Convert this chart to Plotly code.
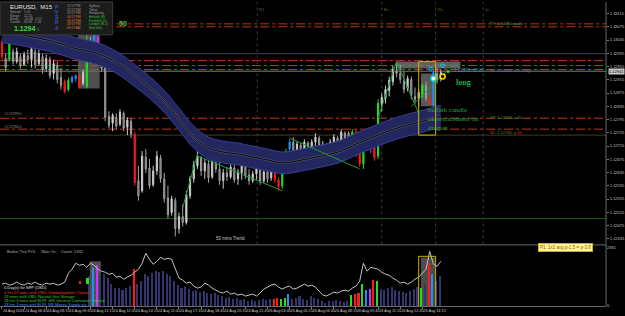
import plotly.graph_objects as go

# ---------------- DATA (EURUSD M15) ----------------
opens = [1.13030, 1.12979, 1.12976, 1.13000, 1.12970, 1.12985, 1.12961, 1.12988, 1.12976, 1.13000,
         1.12964, 1.12985, 1.12949, 1.12976, 1.12934, 1.12958, 1.12922, 1.12910, 1.12886, 1.12910,
         1.12919, 1.12928, 1.12904, 1.12895, 1.13030, 1.12985, 1.13045, 1.12982, 1.12952, 1.12805,
         1.12784, 1.12802, 1.12781, 1.12814, 1.12772, 1.12790, 1.12751, 1.12610, 1.12580, 1.12682,
         1.12649, 1.12598, 1.12640, 1.12679, 1.12616, 1.12559, 1.12514, 1.12550, 1.12466, 1.12502,
         1.12484, 1.12565, 1.12616, 1.12655, 1.12679, 1.12640, 1.12661, 1.12622, 1.12664, 1.12646,
         1.12610, 1.12634, 1.12622, 1.12649, 1.12616, 1.12634, 1.12652, 1.12628, 1.12610, 1.12631,
         1.12643, 1.12610, 1.12637, 1.12619, 1.12646, 1.12613, 1.12595, 1.12640, 1.12706, 1.12727,
         1.12700, 1.12718, 1.12676, 1.12724, 1.12670, 1.12727, 1.12739, 1.12682, 1.12718, 1.12691,
         1.12727, 1.12739, 1.12706, 1.12754, 1.12754, 1.12715, 1.12757, 1.12694, 1.12661, 1.12712,
         1.12721, 1.12709, 1.12685, 1.12841, 1.12859, 1.12883, 1.12910, 1.12943, 1.12934, 1.12913,
         1.12889, 1.12916, 1.12865, 1.12859, 1.12865, 1.12898, 1.12859, 1.12838, 1.12934, 1.12919]
highs = [1.13039, 1.12994, 1.13060, 1.13009, 1.13012, 1.12994, 1.13000, 1.13006, 1.13018, 1.13009,
         1.13006, 1.12994, 1.12991, 1.12985, 1.12976, 1.12970, 1.12952, 1.12916, 1.12922, 1.12928,
         1.12931, 1.12934, 1.12946, 1.13051, 1.13045, 1.13060, 1.13060, 1.12994, 1.12964, 1.12820,
         1.12814, 1.12814, 1.12826, 1.12820, 1.12802, 1.12799, 1.12757, 1.12655, 1.12700, 1.12706,
         1.12676, 1.12655, 1.12700, 1.12688, 1.12634, 1.12595, 1.12565, 1.12559, 1.12514, 1.12538,
         1.12580, 1.12625, 1.12670, 1.12700, 1.12685, 1.12676, 1.12670, 1.12676, 1.12682, 1.12670,
         1.12646, 1.12652, 1.12661, 1.12658, 1.12646, 1.12664, 1.12661, 1.12646, 1.12640, 1.12655,
         1.12652, 1.12646, 1.12643, 1.12652, 1.12655, 1.12622, 1.12661, 1.12706, 1.12736, 1.12742,
         1.12730, 1.12724, 1.12736, 1.12730, 1.12736, 1.12754, 1.12745, 1.12730, 1.12724, 1.12736,
         1.12751, 1.12745, 1.12766, 1.12760, 1.12760, 1.12766, 1.12766, 1.12700, 1.12721, 1.12730,
         1.12736, 1.12715, 1.12856, 1.12874, 1.12898, 1.12925, 1.12958, 1.12970, 1.12961, 1.12940,
         1.12928, 1.12925, 1.12892, 1.12886, 1.12904, 1.12910, 1.12865, 1.12946, 1.12952, 1.12946]
lows = [1.12976, 1.12940, 1.12970, 1.12961, 1.12964, 1.12949, 1.12958, 1.12964, 1.12952, 1.12949,
        1.12958, 1.12934, 1.12940, 1.12919, 1.12916, 1.12904, 1.12886, 1.12874, 1.12880, 1.12904,
        1.12910, 1.12889, 1.12898, 1.12889, 1.12964, 1.12979, 1.12976, 1.12940, 1.12790, 1.12769,
        1.12760, 1.12766, 1.12775, 1.12760, 1.12748, 1.12739, 1.12595, 1.12550, 1.12574, 1.12634,
        1.12586, 1.12592, 1.12628, 1.12604, 1.12544, 1.12496, 1.12505, 1.12442, 1.12451, 1.12472,
        1.12478, 1.12556, 1.12604, 1.12646, 1.12625, 1.12616, 1.12604, 1.12616, 1.12634, 1.12598,
        1.12586, 1.12610, 1.12616, 1.12604, 1.12598, 1.12613, 1.12616, 1.12598, 1.12604, 1.12613,
        1.12598, 1.12604, 1.12604, 1.12610, 1.12604, 1.12580, 1.12586, 1.12631, 1.12700, 1.12688,
        1.12679, 1.12664, 1.12670, 1.12658, 1.12664, 1.12694, 1.12670, 1.12676, 1.12679, 1.12685,
        1.12700, 1.12694, 1.12700, 1.12700, 1.12709, 1.12706, 1.12682, 1.12652, 1.12646, 1.12700,
        1.12694, 1.12670, 1.12676, 1.12820, 1.12844, 1.12865, 1.12898, 1.12922, 1.12904, 1.12874,
        1.12880, 1.12856, 1.12844, 1.12832, 1.12859, 1.12850, 1.12838, 1.12832, 1.12904, 1.12910]
closes = [1.12985, 1.12952, 1.13051, 1.12970, 1.13000, 1.12958, 1.12991, 1.12976, 1.13009, 1.12961,
          1.12994, 1.12946, 1.12979, 1.12928, 1.12964, 1.12916, 1.12898, 1.12880, 1.12913, 1.12922,
          1.12928, 1.12895, 1.12937, 1.13036, 1.12976, 1.13051, 1.12985, 1.12949, 1.12802, 1.12778,
          1.12808, 1.12775, 1.12817, 1.12769, 1.12793, 1.12751, 1.12604, 1.12565, 1.12685, 1.12646,
          1.12595, 1.12640, 1.12685, 1.12616, 1.12556, 1.12508, 1.12556, 1.12466, 1.12502, 1.12484,
          1.12568, 1.12616, 1.12658, 1.12682, 1.12640, 1.12664, 1.12619, 1.12667, 1.12646, 1.12610,
          1.12634, 1.12622, 1.12652, 1.12613, 1.12637, 1.12655, 1.12625, 1.12610, 1.12631, 1.12646,
          1.12607, 1.12637, 1.12616, 1.12643, 1.12613, 1.12592, 1.12652, 1.12697, 1.12727, 1.12697,
          1.12721, 1.12673, 1.12727, 1.12667, 1.12727, 1.12742, 1.12679, 1.12721, 1.12688, 1.12727,
          1.12742, 1.12703, 1.12757, 1.12712, 1.12718, 1.12757, 1.12691, 1.12661, 1.12712, 1.12721,
          1.12706, 1.12679, 1.12844, 1.12862, 1.12886, 1.12913, 1.12946, 1.12934, 1.12916, 1.12886,
          1.12919, 1.12868, 1.12856, 1.12877, 1.12898, 1.12859, 1.12844, 1.12937, 1.12916, 1.12937]
# PVSRA candle class: w normal, r/g climax, b/m rising volume
pvsra = ("rwg" + "w" * 14 + "rgbbrwgwbm" + "w" * 9 + "r" + "w" * 37 + "rrggb"
         + "w" * 16 + "grrgbmrg" + "w" * 11 + "gwrbww")

volumes = [0, 0, 0, 0, 0, 0, 0, 0, 0, 0,
           0, 0, 0, 0, 0, 0, 0, 0, 0, 0,
           0, 0, 0, 0, 1200, 1520, 1640, 1200, 1280, 1120,
           880, 720, 720, 640, 720, 800, 1480, 880, 1000, 1280,
           1200, 1320, 1400, 1360, 1400, 1280, 1200, 1000, 840, 720,
           760, 680, 600, 640, 560, 600, 520, 480, 520, 440,
           400, 320, 360, 280, 320, 240, 280, 200, 240, 200,
           240, 280, 240, 280, 280, 320, 280, 320, 480, 280,
           320, 400, 280, 240, 400, 320, 280, 200, 120, 200,
           200, 240, 200, 160, 200, 440, 480, 520, 880, 640,
           680, 1040, 1000, 680, 640, 720, 760, 640, 600, 560,
           520, 600, 680, 760, 720, 880, 1720, 1280, 1000, 1200]
vol_float_idx = [21, 23]
vol_float_len = [120, 240]
vol_float_base = [880, 880]
vol_line = [880, 920, 840, 880, 960, 880, 840, 920, 880, 960,
            880, 840, 920, 880, 920, 840, 880, 960, 1320, 1480,
            1720, 1640, 1680, 1560, 1720, 1640, 1480, 1400, 1360, 1280,
            1320, 1160, 1200, 1080, 1160, 1240, 1360, 1480, 1720, 2120,
            1880, 1680, 1800, 1960, 1880, 1920, 1880, 1480, 1120, 1040,
            920, 960, 800, 720, 760, 920, 840, 720, 640, 560,
            520, 600, 480, 520, 440, 480, 400, 440, 480, 400,
            520, 680, 760, 840, 880, 760, 680, 760, 800, 680,
            720, 800, 880, 800, 840, 760, 600, 440, 400, 480,
            560, 520, 600, 640, 600, 720, 800, 1000, 1720, 1400,
            1560, 1520, 1480, 1360, 1280, 1240, 1120, 1040, 920, 960,
            880, 960, 1080, 1160, 1320, 1480, 2200, 1680, 1600, 1800]

dragon_idx = [0, 4, 8, 12, 16, 20, 24, 28, 32, 36, 40, 44, 48, 52, 56, 60,
              64, 68, 72, 76, 80, 84, 88, 92, 96, 100, 104, 108, 112, 116, 119]
dragon_mid = [1.13060, 1.13054, 1.13045, 1.13036, 1.13024, 1.13009, 1.13000, 1.12985,
              1.12961, 1.12928, 1.12892, 1.12850, 1.12796, 1.12742, 1.12709, 1.12697,
              1.12691, 1.12682, 1.12673, 1.12664, 1.12670, 1.12679, 1.12688, 1.12700,
              1.12721, 1.12739, 1.12757, 1.12772, 1.12784, 1.12796, 1.12805]
dragon_high = [1.13093, 1.13087, 1.13078, 1.13069, 1.13057, 1.13042, 1.13033, 1.13018,
               1.12994, 1.12961, 1.12925, 1.12883, 1.12829, 1.12775, 1.12742, 1.12730,
               1.12724, 1.12715, 1.12706, 1.12697, 1.12703, 1.12712, 1.12721, 1.12733,
               1.12754, 1.12772, 1.12790, 1.12805, 1.12817, 1.12829, 1.12838]
dragon_low = [1.13027, 1.13021, 1.13012, 1.13003, 1.12991, 1.12976, 1.12967, 1.12952,
              1.12928, 1.12895, 1.12859, 1.12817, 1.12763, 1.12709, 1.12676, 1.12664,
              1.12658, 1.12649, 1.12640, 1.12631, 1.12637, 1.12646, 1.12655, 1.12667,
              1.12688, 1.12706, 1.12724, 1.12739, 1.12751, 1.12763, 1.12772]

price_ticks = [1.13115, 1.13075, 1.13035, 1.12995, 1.12955, 1.12915, 1.12875, 1.12835, 1.12795,
               1.12755, 1.12715, 1.12675, 1.12635, 1.12595, 1.12555, 1.12515, 1.12475, 1.12435]
current_price = 1.12941
time_tick_idx = [0, 6, 12, 18, 24, 30, 36, 42, 48, 54, 60, 66, 72, 78, 84, 90, 96, 102, 108, 114]
time_labels = ["24 Aug 2018", "24 Aug 06:45", "24 Aug 08:15", "24 Aug 09:45", "24 Aug 11:15",
               "24 Aug 12:45", "24 Aug 14:15", "24 Aug 15:45", "24 Aug 17:15", "24 Aug 18:45",
               "24 Aug 20:15", "24 Aug 21:45", "26 Aug 03:45", "26 Aug 05:15", "26 Aug 06:45",
               "26 Aug 08:15", "26 Aug 09:45", "26 Aug 11:15", "26 Aug 12:45", "26 Aug 14:15"]

red_levels = [1.12973, 1.12958, 1.12946, 1.12799, 1.12766]
tp_levels = [1.13084, 1.13075]
tp_start_idx = 31
pivot_level = 1.12994
olive_level = 1.12748
green_level = 1.12496
session_idx = [69.2, 103, 117.6, 130.5]
session_names = ["R1", "Ec", "Px", "1c"]
trendlines = [(49, 1.12529, 53, 1.12691), (53, 1.12685, 76, 1.12580), (78, 1.12739, 97, 1.12646),
              (102, 1.12799, 107, 1.12970), (107, 1.12970, 113, 1.12814), (111, 1.12835, 121, 1.12946)]
signal_box = dict(first=113, last=117.6, top=1.12970, bottom=1.12748)
range_bar = dict(first=106.8, last=124.3, top=1.12970, bottom=1.12949)
cyan_ring = ([117], [1.12919])
yellow_ring = ([119.5], [1.12925])
cyan_marks = ([116.2, 119.5], [1.12949, 1.12958])
green_dot = ([121], [1.12940])

# ---------------- FIGURE ----------------
N = len(closes)
bar_idx = list(range(N))
COL = {'r': '#ff1a1a', 'g': '#1fe01f', 'b': '#1e90ff', 'm': '#cc33ff'}
VOL_BASE = '#35356e'
PW, PH = 608.0, 306.0
XR = [-0.54, 163.8]


def px(x):
    return x / PW


def py(y):
    return 1 - y / PH


fig = go.Figure()

# dragon band
fig.add_trace(go.Scatter(x=dragon_idx, y=dragon_low, mode='lines', hoverinfo='skip',
                         line=dict(color='#383f98', width=1, shape='spline')))
fig.add_trace(go.Scatter(x=dragon_idx, y=dragon_high, mode='lines', hoverinfo='skip', fill='tonexty',
                         fillcolor='#23275f', line=dict(color='#383f98', width=1, shape='spline')))
fig.add_trace(go.Scatter(x=dragon_idx, y=dragon_mid, mode='lines', hoverinfo='skip',
                         line=dict(color='#4c4c66', width=2.4, shape='spline')))
fig.add_trace(go.Scatter(x=dragon_idx, y=dragon_mid, mode='lines', hoverinfo='skip',
                         line=dict(color='#08080f', width=1.0, shape='spline')))

# trend lines
for (a, pa, b, pb) in trendlines:
    fig.add_trace(go.Scatter(x=[a, b], y=[pa, pb], mode='lines', hoverinfo='skip',
                             line=dict(color='#1f9a3a', width=1)))

# candles grouped by PVSRA colour
groups = {}
for i, c in enumerate(pvsra):
    groups.setdefault(c, []).append(i)
for c, ids in groups.items():
    if c == 'w':
        inc = dict(line=dict(color='#c8c8c8', width=1), fillcolor='#e4e4e4')
        dec = dict(line=dict(color='#a0a0a0', width=1), fillcolor='#5c5c5c')
    else:
        inc = dict(line=dict(color=COL[c], width=1), fillcolor=COL[c])
        dec = dict(line=dict(color=COL[c], width=1), fillcolor=COL[c])
    fig.add_trace(go.Candlestick(x=ids, open=[opens[i] for i in ids], high=[highs[i] for i in ids],
                                 low=[lows[i] for i in ids], close=[closes[i] for i in ids],
                                 increasing=inc, decreasing=dec, whiskerwidth=0,
                                 hoverinfo='skip', xaxis='x', yaxis='y'))

# markers
fig.add_trace(go.Scatter(x=cyan_ring[0], y=cyan_ring[1], mode='markers',
                         marker=dict(symbol='circle', size=5, color='#ffffff', line=dict(color='#00d8ff', width=1.4))))
fig.add_trace(go.Scatter(x=yellow_ring[0], y=yellow_ring[1], mode='markers',
                         marker=dict(symbol='circle', size=5, color='#111111', line=dict(color='#ffd700', width=1.6))))
fig.add_trace(go.Scatter(x=cyan_marks[0], y=cyan_marks[1], mode='markers',
                         marker=dict(symbol='square-open', size=3, color='#00c8ff', line=dict(width=1))))
fig.add_trace(go.Scatter(x=green_dot[0], y=green_dot[1], mode='markers',
                         marker=dict(symbol='circle', size=3, color='#20e020')))

# volume panel
vol_colors = [VOL_BASE if c == 'w' else COL[c] for c in pvsra]
fig.add_trace(go.Bar(x=bar_idx, y=volumes, marker=dict(color=vol_colors, line=dict(width=0)),
                     width=0.42, xaxis='x', yaxis='y2', hoverinfo='skip'))
fig.add_trace(go.Bar(x=vol_float_idx, y=vol_float_len, base=vol_float_base,
                     marker=dict(color=[COL[pvsra[i]] for i in vol_float_idx], line=dict(width=0)),
                     width=0.42, xaxis='x', yaxis='y2', hoverinfo='skip'))
fig.add_trace(go.Scatter(x=bar_idx, y=vol_line, mode='lines', xaxis='x', yaxis='y2',
                         line=dict(color='#c4c4c4', width=1), hoverinfo='skip'))

shapes = []
# highlight of bars 21-26 (range from candle data)
hb = range(21, 27)
shapes.append(dict(type='rect', xref='x', yref='y', x0=20.6, x1=26.5, layer='below',
                   y0=min(lows[i] for i in hb), y1=max(highs[i] for i in hb),
                   fillcolor='rgba(105,105,105,0.75)', line=dict(width=0)))
shapes.append(dict(type='rect', xref='x', yref='y', x0=range_bar['first'], x1=range_bar['last'],
                   y0=range_bar['bottom'], y1=range_bar['top'], layer='below',
                   fillcolor='rgba(120,120,120,0.8)', line=dict(width=0)))
shapes.append(dict(type='rect', xref='x', yref='y', x0=signal_box['first'] + 0.6, x1=signal_box['last'] - 0.2,
                   y0=1.12835, y1=1.12934, layer='below', fillcolor='rgba(110,110,110,0.8)', line=dict(width=0)))
shapes.append(dict(type='rect', xref='x', yref='y', x0=signal_box['first'], x1=signal_box['last'],
                   y0=signal_box['bottom'], y1=signal_box['top'], line=dict(color='#c8b400', width=1)))
# volume-panel highlights
shapes.append(dict(type='rect', xref='x', yref='y2', x0=23.8, x1=26.8, y0=0, y1=1800, layer='below',
                   fillcolor='rgba(100,100,100,0.8)', line=dict(width=0)))
shapes.append(dict(type='rect', xref='x', yref='y2', x0=signal_box['first'] + 0.6, x1=signal_box['last'] - 0.2,
                   y0=0, y1=1950, layer='below', fillcolor='rgba(95,95,95,0.8)', line=dict(width=0)))
shapes.append(dict(type='rect', xref='x', yref='y2', x0=signal_box['first'], x1=signal_box['last'],
                   y0=-60, y1=2000, line=dict(color='#c8b400', width=1)))
# levels
for lv in red_levels:
    shapes.append(dict(type='line', xref='paper', yref='y', x0=0, x1=1, y0=lv, y1=lv, layer='below',
                       line=dict(color='#c0381a', width=1, dash='dashdot')))
for lv in tp_levels:
    shapes.append(dict(type='line', xref='x', yref='y', x0=tp_start_idx, x1=XR[1], y0=lv, y1=lv, layer='below',
                       line=dict(color='#c0381a', width=1, dash='dashdot')))
shapes.append(dict(type='line', xref='paper', yref='y', x0=0, x1=1, y0=pivot_level, y1=pivot_level,
                   layer='below', line=dict(color='#3a4662', width=1)))
shapes.append(dict(type='line', xref='paper', yref='y', x0=0, x1=1, y0=current_price, y1=current_price,
                   layer='below', line=dict(color='#7c7c7c', width=1)))
shapes.append(dict(type='line', xref='paper', yref='y', x0=0, x1=1, y0=olive_level, y1=olive_level,
                   layer='below', line=dict(color='#4a3a1c', width=1)))
shapes.append(dict(type='line', xref='paper', yref='y', x0=0, x1=1, y0=green_level, y1=green_level,
                   layer='below', line=dict(color='#1b5a1b', width=1)))
for sx in session_idx:
    shapes.append(dict(type='line', xref='x', yref='paper', x0=sx, x1=sx, y0=py(244), y1=1, layer='below',
                       line=dict(color='#3a3a3a', width=1, dash='dot')))
# panel frames
shapes.append(dict(type='line', xref='paper', yref='paper', x0=0, x1=1, y0=py(244.5), y1=py(244.5),
                   line=dict(color='#6a6a6a', width=1)))
shapes.append(dict(type='line', xref='paper', yref='paper', x0=1, x1=1, y0=0, y1=1,
                   line=dict(color='#6a6a6a', width=1)))
# info panel
shapes.append(dict(type='rect', xref='paper', yref='paper', x0=0, x1=px(113), y0=py(33), y1=1,
                   fillcolor='#1c1c1c', line=dict(color='#3a3a3a', width=1), layer='above'))

ann = []


def T(x, y, text, size=4, color='#b4b4b4', family='Liberation Sans', xa='left', ya='middle', **kw):
    ann.append(dict(xref='paper', yref='paper', x=px(x), y=py(y), text=text, showarrow=False,
                    xanchor=xa, yanchor=ya, font=dict(size=size, color=color, family=family), **kw))


# info panel texts
T(8, 5, "EURUSD,  M15", size=6, color='#e8e8e8')
for k, (lab, val) in enumerate([("Spread:", "1.00"), ("Range:", "22.20"), ("Break:", "-20.48  -0.21"),
                                ("Candle:", "00:08  -1.44")]):
    T(8, 10.5 + 3.3 * k, lab, size=3.2, color='#9a9a9a')
    T(22, 10.5 + 3.3 * k, val, size=3.2, color='#9a9a9a')
T(12, 27, "<b>1.1294</b>", size=7, color='#3bdc3b')
T(35, 28, "1", size=4, color='#3bdc3b')
for k, ch in enumerate("PVSRA"):
    T(57, 5 + 5.2 * k, "<b>" + ch + "</b>", size=5, color='#3c50c8', xa='center')
times = ["11:57 PM", "12:57 PM", "10:57 PM", "04:57 PM", "03:57 PM", "03:57 PM", "09:57 AM"]
sess = ["Sydney", "Tokyo", "Hongkong", "Helsinki (8)", "Frankfurt (L)", "London (N-1)", "NewYork"]
for k in range(7):
    T(65, 4 + 3.7 * k, times[k], size=3.2, color='#9a9a9a' if k < 3 else '#e07a28')
    T(87, 4 + 3.7 * k, sess[k], size=3.2, color='#9a9a9a' if k < 3 else '#36c036')

# chart annotations
T(117, 22, "<b>50</b>", size=7, color='#2ecc40')
T(490, 22, "TP: 1.13084, p+20", size=4, color='#3a9a3a')
T(453, 68.5, "1.12958  00:00", size=4.5, color='#5a7ac0')
T(490, 69, "SL: 1.12958, 2x2 Long", size=4, color='#a050c8')
T(490, 116, "TP: 1.12799, p-20", size=4, color='#3a9a3a')
T(490, 131, "SL: 1.12766, p-40", size=4, color='#c04030')
T(2, 58, "#1.12973.0", size=3.5, color='#909090')
T(2, 113, "#1.12799.0", size=3.5, color='#909090')
T(2, 126, "#1.12766.0", size=3.5, color='#909090')
T(215, 238, "50 mins Trend", size=4.5, color='#c8c8c8')
T(455, 81, "<b>long</b>", size=8, color='#22aa44', family='Liberation Serif')
T(427, 109, "bullish candle", size=7, color='#22aa44', family='Liberation Serif')
T(427, 118, "on retracement on", size=7, color='#22aa44', family='Liberation Serif')
T(427, 127, "dragon", size=7, color='#22aa44', family='Liberation Serif')
for sx, nm in zip(session_idx, session_names):
    ann.append(dict(xref='x', yref='paper', x=sx, y=py(3), text=nm, showarrow=False, xanchor='left',
                    font=dict(size=4, color='#7a6a20', family='Liberation Sans')))

# volume panel texts
T(5, 251, "Broker Tick Pr%     Wait On     Count: 1332", size=4, color='#b0b0b0')
T(2, 287, "0 Day(s) for NFP (USD)", size=4, color='#e0e0e0')
T(2, 292, "1 hrs 27 mins until USD: Unemployment Claims", size=4, color='#ff3030')
T(2, 296.5, "23 mins until USD: Natural Gas Storage", size=4, color='#30d030')
T(2, 300.5, "18 hrs 3 mins until EUR: GfK German Consumer Climate", size=4, color='#30d030')
T(2, 304.5, "18 hrs 3 mins until EUR: M3 Money Supply y/y", size=4, color='#4a8aff')
T(540, 247, "P1: 2x2 avg p-1.5 = p-3.8", size=4.5, color='#b03a00', bgcolor='#fbfb9c',
  bordercolor='#c8b400', borderpad=1)
# current price label
ann.append(dict(xref='paper', yref='y', x=1, y=current_price, text=f"{current_price:.5f}", showarrow=False,
                xanchor='left', xshift=2, font=dict(size=4, color='#000000', family='Liberation Sans'),
                bgcolor='#c8c8c8', borderpad=0))

fig.update_layout(
    width=625, height=316,
    margin=dict(l=0, r=17, t=0, b=10),
    paper_bgcolor='#000000', plot_bgcolor='#000000',
    showlegend=False, boxgap=0.55, bargap=0,
    font=dict(family='Liberation Sans', size=4, color='#b4b4b4'),
    xaxis=dict(range=XR, anchor='y2', tickvals=time_tick_idx, ticktext=time_labels, tickangle=0,
               ticklabelposition='outside right', ticks='outside', ticklen=2, tickcolor='#808080',
               showgrid=False, zeroline=False, showline=True, linecolor='#6a6a6a',
               rangeslider=dict(visible=False), tickfont=dict(size=3.8, color='#c8c8c8')),
    yaxis=dict(domain=[py(244), 1], range=[1.13150 - 0.00003 * 244, 1.13150], side='right',
               tickvals=price_ticks, ticktext=[f"{v:.5f}" for v in price_ticks],
               ticks='outside', ticklen=2, tickcolor='#808080', showgrid=False, zeroline=False,
               tickfont=dict(size=4, color='#c0c0c0')),
    yaxis2=dict(domain=[0, py(246)], range=[0, 2400], side='right', tickvals=[0, 2361],
                ticktext=["0", "2361"], ticks='', showgrid=False, zeroline=False,
                tickfont=dict(size=4, color='#c0c0c0')),
    shapes=shapes, annotations=ann,
)

fig.write_html("out.html")
